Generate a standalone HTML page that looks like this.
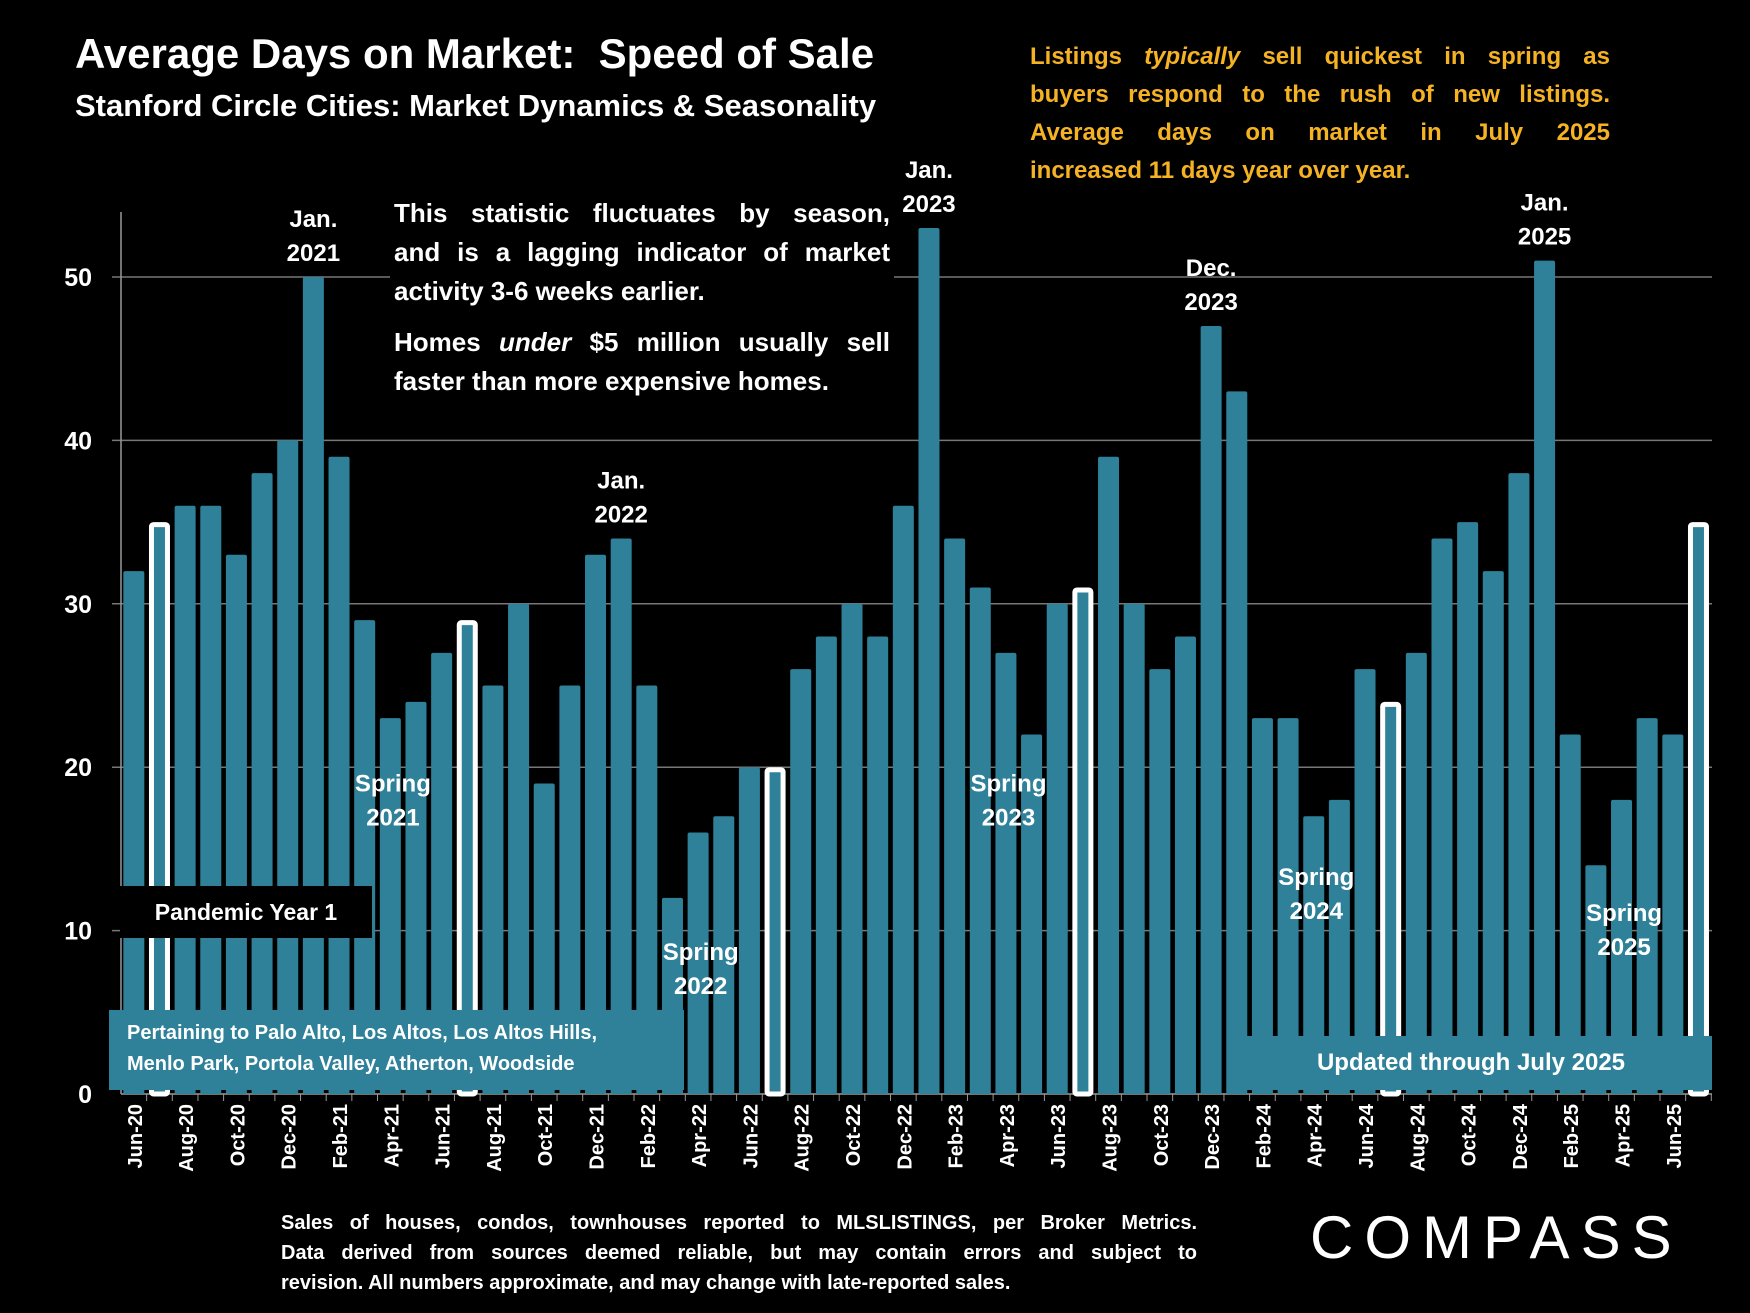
<!DOCTYPE html>
<html><head><meta charset="utf-8"><style>
body{margin:0;background:#000;width:1750px;height:1313px;overflow:hidden;font-family:"Liberation Sans",sans-serif;font-weight:bold;color:#fff}
svg{position:absolute;left:0;top:0}
.t{position:absolute}
.j{text-align:justify;text-align-last:justify;white-space:nowrap}
.l{text-align:left;text-align-last:left;white-space:nowrap}
</style></head><body>
<svg width="1750" height="1313">
<g id="grid"></g><g id="bars"></g><g id="xt"></g>
</svg>
<div class="t" style="left:75px;top:30px;font-size:42px">Average Days on Market:&nbsp; Speed of Sale</div>
<div class="t" style="left:75px;top:88px;font-size:31px">Stanford Circle Cities: Market Dynamics &amp; Seasonality</div>
<div class="t" style="left:1030px;top:38px;width:580px;font-size:24px;line-height:38px;color:#f5b324">
<div class="j">Listings <i>typically</i> sell quickest in spring as</div>
<div class="j">buyers respond to the rush of new listings.</div>
<div class="j">Average days on market in July 2025</div>
<div class="l">increased 11 days year over year.</div></div>
<div class="t" style="left:390px;top:194px;width:496px;padding:0 4px;background:#000;font-size:26px;line-height:39px">
<div class="j">This statistic fluctuates by season,</div>
<div class="j">and is a lagging indicator of market</div>
<div class="l">activity 3-6 weeks earlier.</div>
<div style="height:12px"></div>
<div class="j">Homes <i>under</i> $5 million usually sell</div>
<div class="l">faster than more expensive homes.</div></div>
<div class="t" style="left:120px;top:886px;width:252px;height:52px;background:#000;font-size:23px;line-height:52px;text-align:center">Pandemic Year 1</div>
<div class="t" style="left:109px;top:1010px;width:575px;height:80px;background:#2e8199;font-size:20px;line-height:31px;padding:8px 0 0 18px;box-sizing:border-box">Pertaining to Palo Alto, Los Altos, Los Altos Hills,<br>Menlo Park, Portola Valley, Atherton, Woodside</div>
<div class="t" style="left:1230px;top:1036px;width:482px;height:54px;background:#2e8199;font-size:24px;line-height:54px;text-align:center">Updated through July 2025</div>
<div class="t" style="left:281px;top:1208px;width:916px;font-size:20px;line-height:30px">
<div class="j">Sales of houses, condos, townhouses reported to MLSLISTINGS, per Broker Metrics.</div>
<div class="j">Data derived from sources deemed reliable, but may contain errors and subject to</div>
<div class="l">revision. All numbers approximate, and may change with late-reported sales.</div></div>
<div class="t" style="left:1310px;top:1203px;font-size:60px;font-weight:normal;letter-spacing:11px">COMPASS</div>
<script>
const cats=["Jun-20","Jul-20","Aug-20","Sep-20","Oct-20","Nov-20","Dec-20","Jan-21","Feb-21","Mar-21","Apr-21","May-21","Jun-21","Jul-21","Aug-21","Sep-21","Oct-21","Nov-21","Dec-21","Jan-22","Feb-22","Mar-22","Apr-22","May-22","Jun-22","Jul-22","Aug-22","Sep-22","Oct-22","Nov-22","Dec-22","Jan-23","Feb-23","Mar-23","Apr-23","May-23","Jun-23","Jul-23","Aug-23","Sep-23","Oct-23","Nov-23","Dec-23","Jan-24","Feb-24","Mar-24","Apr-24","May-24","Jun-24","Jul-24","Aug-24","Sep-24","Oct-24","Nov-24","Dec-24","Jan-25","Feb-25","Mar-25","Apr-25","May-25","Jun-25","Jul-25"];
const values=[32,35,36,36,33,38,40,50,39,29,23,24,27,29,25,30,19,25,33,34,25,12,16,17,20,20,26,28,30,28,36,53,34,31,27,22,30,31,39,30,26,28,47,43,23,23,17,18,26,24,27,34,35,32,38,51,22,14,18,23,22,35];
const highlight=["Jul-20","Jul-21","Jul-22","Jul-23","Jul-24","Jul-25"];
const yTicks=[0,10,20,30,40,50];
const annotations=[["Jan-21","Jan.|2021"],["Jan-22","Jan.|2022"],["Jan-23","Jan.|2023"],["Dec-23","Dec.|2023"],["Jan-25","Jan.|2025"]];
const springs=[["Apr-21",18.5,"Spring|2021"],["Apr-22",8.2,"Spring|2022"],["Apr-23",18.5,"Spring|2023"],["Apr-24",12.8,"Spring|2024"],["Apr-25",10.6,"Spring|2025"]];
const NS="http://www.w3.org/2000/svg";
const x0=121,step=25.65,bw=21,yb=1094,ppu=16.34;
const X=i=>x0+step*i+step/2;
const Y=v=>yb-v*ppu;
function mk(t,a,p){const e=document.createElementNS(NS,t);for(const k in a)e.setAttribute(k,a[k]);p.appendChild(e);return e;}
const grid=document.getElementById('grid'),bars=document.getElementById('bars'),xt=document.getElementById('xt');
yTicks.forEach(v=>{
 if(v>0){const l=mk('line',{x1:112,x2:1712,y1:Y(v),y2:Y(v),stroke:'#777','stroke-width':1.5},grid);
 
 }
 const t=mk('text',{x:92,y:Y(v)+9,'text-anchor':'end','font-size':25,fill:'#fff','font-weight':'bold'},grid);t.textContent=v;
 
 
});
const ax=mk('line',{x1:x0,x2:x0,y1:212,y2:yb,stroke:'#999','stroke-width':1.5},grid);


const bx=mk('line',{x1:x0,x2:1712,y1:yb,y2:yb,stroke:'#999','stroke-width':1.5},grid);


cats.forEach((c,i)=>{
 const v=values[i],hl=highlight.includes(c);
 const r=mk('rect',{x:X(i)-bw/2,y:Y(v),width:bw,height:yb-Y(v),fill:'#2e8199',rx:2},bars);
 if(hl){r.setAttribute('stroke','#fff');r.setAttribute('stroke-width',5);r.setAttribute('x',X(i)-bw/2+2.5);r.setAttribute('width',bw-5);r.setAttribute('y',Y(v)+2.5);r.setAttribute('height',yb-Y(v)-2.5);}
 
 
 mk('line',{x1:X(i)+step/2,x2:X(i)+step/2,y1:yb,y2:yb+7,stroke:'#999'},xt);
 if(i%2==0){const t=mk('text',{transform:`translate(${X(i)+8},${yb+10}) rotate(-90)`,'text-anchor':'end','font-size':20,fill:'#fff','font-weight':'bold'},xt);t.textContent=c;
 
 }
});
function lbl(i,ytop,s,name){
 const g=mk('text',{'text-anchor':'middle','font-size':24,fill:'#fff','font-weight':'bold'},bars);
 s.split('|').forEach((p,k)=>{const ts=mk('tspan',{x:X(i),y:ytop+k*34},g);ts.textContent=p;});
 
 
}
annotations.forEach(a=>{const i=cats.indexOf(a[0]);lbl(i,Y(values[i])-50,a[1],'annotation-'+a[0].toLowerCase());});
springs.forEach(a=>{const i=cats.indexOf(a[0]);lbl(i+0.1,Y(a[1]),a[2],'spring-label-'+a[0].toLowerCase());});
</script>
</body></html>
